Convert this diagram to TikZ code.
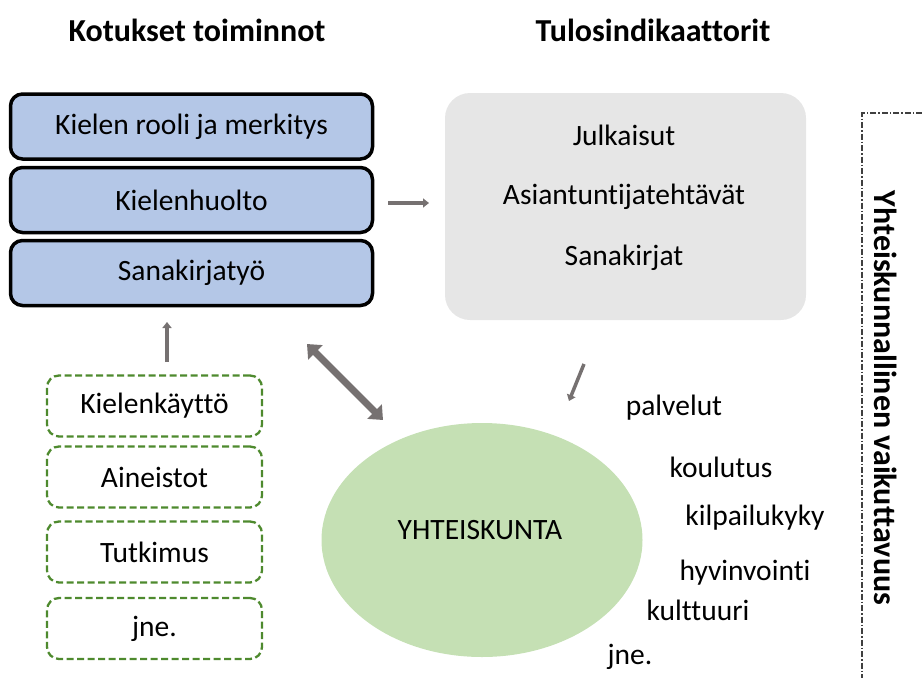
\documentclass[tikz,border=0pt]{standalone}
\usepackage{fontspec}
\setmainfont{Carlito}[Ligatures=NoCommon]
\usetikzlibrary{arrows.meta,shapes.geometric}
\definecolor{bluefill}{HTML}{B4C7E7}
\definecolor{grayfill}{HTML}{E6E6E6}
\definecolor{greenfill}{HTML}{C5E0B4}
\definecolor{greendash}{HTML}{4E8A2E}
\definecolor{arrowgray}{HTML}{767171}
\tikzset{
  txt/.style={font=\fontsize{29.5}{34}\selectfont, inner sep=0pt},
  head/.style={font=\fontsize{32}{36}\selectfont\bfseries, inner sep=0pt},
  bluebox/.style={draw=black, line width=3.5pt, fill=bluefill, rounded corners=12pt, minimum width=362pt, minimum height=65pt, font=\fontsize{29.5}{34}\selectfont},
  greenbox/.style={draw=greendash, line width=2.3pt, dash pattern=on 7pt off 3.5pt, rounded corners=12pt, minimum width=215pt, minimum height=61pt, font=\fontsize{29.5}{34}\selectfont},
  garrow/.style={draw=arrowgray, line width=3.5pt, -{Triangle[length=6pt,width=9pt]}},
}
\begin{document}
\begin{tikzpicture}[x=1pt,y=-1pt]
\useasboundingbox (0,0) rectangle (922,678);
% headings
\node[head] (h1) at (197,30) {Kotukset toiminnot};
\node[head] (h2) at (653,30) {Tulosindikaattorit};
% blue boxes
\node[bluebox] (b1) at (191.5,126.5) {Kielen rooli ja merkitys};
\node[bluebox] (b2) at (191.5,200) {Kielenhuolto};
\node[bluebox] (b3) at (191.5,273) {Sanakirjatyö};
% gray box
\node[fill=grayfill, rounded corners=25pt, minimum width=361pt, minimum height=227pt] (g) at (625.5,206.5) {};
\node[txt] (g1) at (624,135) {Julkaisut};
\node[txt] (g2) at (624,197) {Asiantuntijatehtävät};
\node[txt] (g3) at (624,258) {Sanakirjat};
% green dashed boxes
\node[greenbox] (k1) at (154.5,406) {Kielenkäyttö};
\node[greenbox] (k2) at (154.5,477) {Aineistot};
\node[greenbox] (k3) at (154.5,552) {Tutkimus};
\node[greenbox] (k4) at (154.5,628.5) {jne.};
% ellipse
\node[ellipse, fill=greenfill, minimum width=321pt, minimum height=234pt, inner sep=0pt] (e) at (482,540) {};
\node[txt] (et) at (480,530) {YHTEISKUNTA};
% right list
\node[txt] (r1) at (674,408) {palvelut};
\node[txt] (r2) at (721,467) {koulutus};
\node[txt] (r3) at (755,518) {kilpailukyky};
\node[txt] (r4) at (745,573) {hyvinvointi};
\node[txt] (r5) at (698,610) {kulttuuri};
\node[txt] (r6) at (630,657) {jne.};
% dash-dot frame
\coordinate (f1) at (922,113);
\coordinate (f2) at (862,113);
\coordinate (f3) at (862,678);
\draw[black!75, line width=1.5pt, dash pattern=on 6pt off 2pt on 1.5pt off 2pt] (f1) -- (f2) -- (f3);
\node[head, rotate=-90] (v) at (886,398) {Yhteiskunnallinen vaikuttavuus};
% arrows
\coordinate (a1s) at (388,203);
\coordinate (a1e) at (429,203);
\draw[garrow] (a1s) -- (a1e);
\coordinate (a2s) at (167,362);
\coordinate (a2e) at (167,322);
\draw[garrow] (a2s) -- (a2e);
\coordinate (a3s) at (584,364);
\coordinate (a3e) at (569,401);
\draw[garrow] (a3s) -- (a3e);
\coordinate (a4s) at (307,344);
\coordinate (a4e) at (383,420);
\draw[draw=arrowgray, line width=7pt, {Triangle[length=12pt,width=20pt]}-{Triangle[length=12pt,width=20pt]}] (a4s) -- (a4e);
\end{tikzpicture}
\end{document}
